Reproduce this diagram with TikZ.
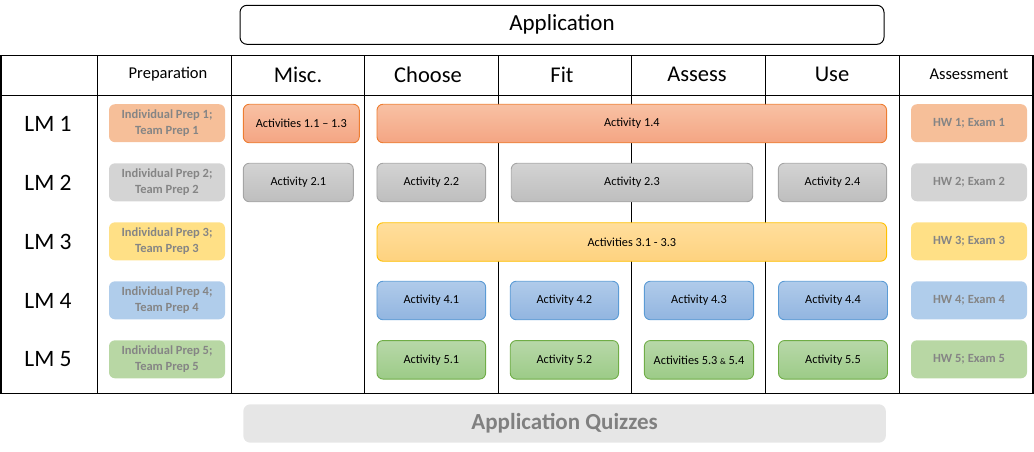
\documentclass[tikz,border=0pt]{standalone}
\usepackage{fontspec}
\setmainfont{Carlito}
\usetikzlibrary{shadings}
\definecolor{oranB}{HTML}{ED7D31}\definecolor{oranT}{HTML}{F8C1A4}\definecolor{oranD}{HTML}{F4A583}\definecolor{oranP}{HTML}{F6BF99}
\definecolor{grayB}{HTML}{A5A5A5}\definecolor{grayT}{HTML}{D3D3D3}\definecolor{grayD}{HTML}{BEBEBE}\definecolor{grayP}{HTML}{D4D4D4}
\definecolor{yelB}{HTML}{FFC000}\definecolor{yelT}{HTML}{FFDE9C}\definecolor{yelD}{HTML}{FED27F}\definecolor{yelP}{HTML}{FFE086}
\definecolor{bluB}{HTML}{5B9BD5}\definecolor{bluT}{HTML}{B0CBEA}\definecolor{bluD}{HTML}{92B5E0}\definecolor{bluP}{HTML}{B0CDEB}
\definecolor{grnB}{HTML}{70AD47}\definecolor{grnT}{HTML}{B8D8A9}\definecolor{grnD}{HTML}{9CCB87}\definecolor{grnP}{HTML}{B8D7A4}
\definecolor{preptxt}{HTML}{858585}
\definecolor{quizF}{HTML}{E6E6E6}\definecolor{quizT}{HTML}{808080}
\begin{document}
\begin{tikzpicture}[x=1pt,y=-1pt,
  grid/.style={line width=1.4pt,black},
  hdrbig/.style={font=\fontsize{22.5}{26}\selectfont,anchor=center},
  hdrsmall/.style={font=\fontsize{16.5}{19}\selectfont,anchor=center},
  lmlab/.style={font=\fontsize{23.5}{27}\selectfont,anchor=center},
  prepbox/.style={rounded corners=6pt,minimum height=38pt,minimum width=116pt,inner sep=0pt,align=center,
     text=preptxt,font=\fontsize{12.5}{15.5}\selectfont\bfseries},
  actbox/.style={rounded corners=6pt,minimum height=38.5pt,inner sep=0pt,align=center,line width=0.9pt,
     font=\fontsize{12.3}{14}\selectfont},
  orangeact/.style={actbox,draw=oranB,top color=oranT,bottom color=oranD},
  grayact/.style={actbox,draw=grayB,top color=grayT,bottom color=grayD},
  yelact/.style={actbox,draw=yelB,top color=yelT,bottom color=yelD},
  bluact/.style={actbox,draw=bluB,top color=bluT,bottom color=bluD},
  grnact/.style={actbox,draw=grnB,top color=grnT,bottom color=grnD},
]
\useasboundingbox (0,0) rectangle (1034,452);
% top application box
\node[draw,line width=1pt,rounded corners=7pt,minimum width=644pt,minimum height=39pt,inner sep=0pt,
  font=\fontsize{23}{27}\selectfont] (app) at (562,24.8) {Application};
% table
\draw[grid] (1,55.5) rectangle (1033,393.5);
\draw[grid] (1,95.5) -- (1033,95.5);
\foreach \x in {97.5,231.5,364.5,498.5,631.5,765.5,899.5}{\draw[grid] (\x,55.5) -- (\x,393.5);}
% headers
\node[hdrsmall] (hprep) at (168,74.5) {Preparation};
\node[hdrbig] (hmisc) at (298,74.5) {Misc.};
\node[hdrbig] (hchoose) at (428,74.5) {Choose};
\node[hdrbig] (hfit) at (562,74.5) {Fit};
\node[hdrbig] (hassess) at (697,74.5) {Assess};
\node[hdrbig] (huse) at (832,74.5) {Use};
\node[hdrsmall] (hasm) at (969,74.5) {Assessment};
% LM labels
\node[lmlab] (lm1) at (48,123.5) {LM 1};
\node[lmlab] (lm2) at (48,182.5) {LM 2};
\node[lmlab] (lm3) at (48,242) {LM 3};
\node[lmlab] (lm4) at (48,300.5) {LM 4};
\node[lmlab] (lm5) at (48,359.5) {LM 5};
% preparation boxes
\node[prepbox,fill=oranP] (p1) at (167,123.2) {Individual Prep 1;\\Team Prep 1};
\node[prepbox,fill=grayP] (p2) at (167,182.3) {Individual Prep 2;\\Team Prep 2};
\node[prepbox,fill=yelP] (p3) at (167,241.3) {Individual Prep 3;\\Team Prep 3};
\node[prepbox,fill=bluP] (p4) at (167,300.3) {Individual Prep 4;\\Team Prep 4};
\node[prepbox,fill=grnP] (p5) at (167,359.3) {Individual Prep 5;\\Team Prep 5};
% assessment boxes
\node[prepbox,fill=oranP] (a1) at (969,123.2) {HW 1; Exam 1};
\node[prepbox,fill=grayP] (a2) at (969,182.3) {HW 2; Exam 2};
\node[prepbox,fill=yelP] (a3) at (969,241.3) {HW 3; Exam 3};
\node[prepbox,fill=bluP] (a4) at (969,300.3) {HW 4; Exam 4};
\node[prepbox,fill=grnP] (a5) at (969,359.3) {HW 5; Exam 5};
% LM1
\node[orangeact,minimum width=116pt] (act11) at (301.3,123.5) {Activities 1.1 – 1.3};
\node[orangeact,minimum width=509.6pt] (act14) at (631.8,123.5) {Activity 1.4};
% LM2
\node[grayact,minimum width=110pt] (act21) at (298.3,182.5) {Activity 2.1};
\node[grayact,minimum width=108.7pt] (act22) at (431.3,182.5) {Activity 2.2};
\node[grayact,minimum width=241.5pt] (act23) at (632,182.5) {Activity 2.3};
\node[grayact,minimum width=108.3pt] (act24) at (832.5,182.5) {Activity 2.4};
% LM3
\node[yelact,minimum width=509.6pt] (act31) at (631.8,242) {Activities 3.1 - 3.3};
% LM4
\node[bluact,minimum width=108.7pt] (act41) at (431.3,300.5) {Activity 4.1};
\node[bluact,minimum width=108.3pt] (act42) at (564.4,300.5) {Activity 4.2};
\node[bluact,minimum width=109.3pt] (act43) at (699,300.5) {Activity 4.3};
\node[bluact,minimum width=109pt] (act44) at (833,300.5) {Activity 4.4};
% LM5
\node[grnact,minimum width=108.7pt] (act51) at (431.3,359.8) {Activity 5.1};
\node[grnact,minimum width=108.3pt] (act52) at (564.4,359.8) {Activity 5.2};
\node[grnact,minimum width=109.3pt] (act53) at (699,359.8) {Activities 5.3 {\fontsize{8.5}{10}\selectfont\&} 5.4};
\node[grnact,minimum width=109pt] (act55) at (833,359.8) {Activity 5.5};
% quizzes
\node[fill=quizF,rounded corners=7pt,minimum width=642.6pt,minimum height=38.4pt,inner sep=0pt,
  text=quizT,font=\fontsize{23}{27}\selectfont\bfseries] (quiz) at (564.6,423.5) {Application Quizzes};
\end{tikzpicture}
\end{document}
